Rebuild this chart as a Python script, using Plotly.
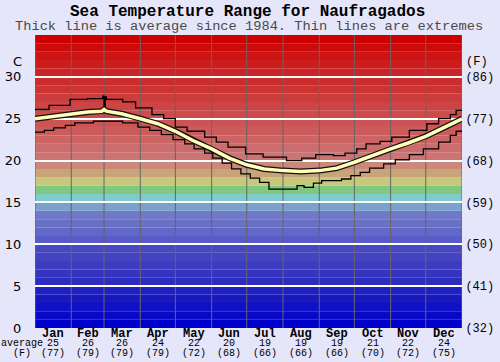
import plotly.graph_objects as go
from itertools import accumulate

# ---------------- data ----------------
months = ["Jan", "Feb", "Mar", "Apr", "May", "Jun", "Jul", "Aug", "Sep", "Oct", "Nov", "Dec"]
month_days = [31, 28, 31, 30, 31, 30, 31, 31, 30, 31, 30, 31]
avg_c = [25, 26, 26, 24, 22, 20, 19, 19, 19, 21, 22, 24]
avg_f = [77, 79, 79, 79, 72, 68, 66, 66, 66, 70, 72, 75]

y_tick_c = [0, 5, 10, 15, 20, 25, 30]
y_tick_f = ["(32)", "(41)", "(50)", "(59)", "(68)", "(77)", "(86)"]

avg_day = [0, 15, 31, 45, 57, 59, 61, 74, 90, 105, 120, 135, 151, 166, 181, 196, 212, 227,
           243, 258, 273, 288, 304, 319, 334, 349, 365]
avg_temp = [25.0, 25.3, 25.6, 25.8, 25.9, 26.1, 25.9, 25.6, 25.0, 24.4, 23.5, 22.4, 21.4, 20.3,
            19.5, 19.0, 18.8, 18.7, 18.8, 19.1, 19.8, 20.6, 21.4, 22.1, 22.9, 23.9, 25.0]

max_day = [0, 12, 30, 45, 58, 59, 60, 61, 75, 86, 100, 110, 120, 130, 145, 155, 165, 180, 195,
           215, 228, 240, 255, 265, 275, 283, 295, 305, 320, 335, 345, 355, 360, 365]
max_temp = [26.1, 26.6, 27.3, 27.4, 27.7, 25.8, 27.6, 27.3, 27.0, 26.3, 25.5, 25.0, 24.0, 23.5,
            22.8, 22.2, 21.6, 20.8, 20.4, 20.0, 20.3, 20.7, 20.6, 20.9, 21.4, 22.0, 22.3, 22.8,
            23.6, 24.4, 25.0, 25.5, 26.0, 26.0]

min_day = [0, 8, 16, 26, 34, 50, 75, 88, 98, 108, 118, 128, 136, 145, 152, 160, 168, 176, 184,
           192, 200, 224, 230, 238, 245, 262, 270, 278, 286, 298, 308, 320, 332, 345, 355, 360, 365]
min_temp = [23.4, 23.6, 23.9, 24.2, 24.5, 24.7, 24.5, 24.0, 23.6, 23.1, 22.5, 22.0, 21.4, 20.9,
            20.3, 19.7, 19.0, 18.4, 17.9, 17.4, 16.6, 17.0, 16.8, 17.3, 17.6, 17.8, 18.2, 18.6,
            19.1, 19.6, 20.1, 20.7, 21.4, 22.2, 23.0, 23.5, 23.5]

# one colour per 1-degree band, from 0 C upward to 35 C
band_colors = [
    "#0000cc", "#0808c8", "#1010c4", "#1818c0", "#2020c0",
    "#2c2cc0", "#3434c0", "#3c3cc0", "#4444c0", "#4848c0",
    "#5a5ac8", "#6068c8", "#6a70c4", "#7078c8", "#7aa0cc",
    "#80cccc", "#80c880", "#c8c87c", "#c8a478", "#cc8878",
    "#cc7474", "#cc6c6c", "#cc6464", "#cc5c5c", "#cc5454",
    "#cc4c4c", "#cc4444", "#cc3c3c", "#cc3434", "#cc2c2c",
    "#cc2424", "#cc1c1c", "#cc1414", "#cc0a0a", "#cc0000",
]

# ---------------- derived positions ----------------
bounds = [0] + list(accumulate(month_days))
centers = [bounds[i] + month_days[i] / 2 for i in range(12)]

fig = go.Figure()

fig.add_trace(go.Scatter(x=max_day, y=max_temp, mode="lines", line=dict(color="black", width=1.3, shape="hv"),
                         hoverinfo="skip", showlegend=False))
fig.add_trace(go.Scatter(x=min_day, y=min_temp, mode="lines", line=dict(color="black", width=1.3, shape="hv"),
                         hoverinfo="skip", showlegend=False))
fig.add_trace(go.Scatter(x=avg_day, y=avg_temp, mode="lines", line=dict(color="#111111", width=6),
                         hoverinfo="skip", showlegend=False))
fig.add_trace(go.Scatter(x=avg_day, y=avg_temp, mode="lines", line=dict(color="#ffffb8", width=3.5),
                         hoverinfo="skip", showlegend=False))
fig.add_trace(go.Scatter(x=[0], y=[0], yaxis="y2", mode="markers", marker=dict(opacity=0),
                         hoverinfo="skip", showlegend=False))

shapes = []
for i, c in enumerate(band_colors):
    shapes.append(dict(type="rect", xref="paper", yref="y", x0=0, x1=1, y0=i, y1=i + 1,
                       fillcolor=c, line=dict(width=0), layer="below"))
for b in bounds:
    shapes.append(dict(type="line", xref="x", yref="paper", x0=b, x1=b, y0=0, y1=1,
                       line=dict(color="#666666", width=1), layer="between"))

mono = "Liberation Mono, Courier New, monospace"

annotations = []
for i in range(12):
    annotations.append(dict(x=centers[i], y=-0.0205, xref="x", yref="paper", text=f"<b>{months[i]}</b>",
                            showarrow=False, font=dict(family=mono, size=12, color="black"),
                            xanchor="center", yanchor="middle"))
    annotations.append(dict(x=centers[i], y=-0.053, xref="x", yref="paper", text=str(avg_c[i]),
                            showarrow=False, font=dict(family=mono, size=10, color="black"),
                            xanchor="center", yanchor="middle"))
    annotations.append(dict(x=centers[i], y=-0.086, xref="x", yref="paper", text=f"({avg_f[i]})",
                            showarrow=False, font=dict(family=mono, size=10, color="black"),
                            xanchor="center", yanchor="middle"))
annotations += [
    dict(x=-0.030, y=-0.053, xref="paper", yref="paper", text="average", showarrow=False,
         font=dict(family=mono, size=10, color="black"), xanchor="center", yanchor="middle"),
    dict(x=-0.030, y=-0.086, xref="paper", yref="paper", text="(F)", showarrow=False,
         font=dict(family=mono, size=10, color="black"), xanchor="center", yanchor="middle"),
    dict(x=-0.040, y=31.8, xref="paper", yref="y", text="C", showarrow=False,
         font=dict(family="DejaVu Sans, sans-serif", size=13, color="black"), xanchor="center", yanchor="middle"),
    dict(x=1.036, y=31.8, xref="paper", yref="y", text="(F)", showarrow=False,
         font=dict(family=mono, size=12, color="black"), xanchor="center", yanchor="middle"),
    dict(x=0.4988, y=1.0785, xref="paper", yref="paper", yanchor="middle",
         text="<b>Sea Temperature Range for Naufragados</b>", showarrow=False,
         font=dict(family=mono, size=16, color="black"), xanchor="center"),
    dict(x=0.501, y=1.0307, xref="paper", yref="paper", yanchor="middle",
         text="Thick line is average since 1984. Thin lines are extremes", showarrow=False,
         font=dict(family=mono, size=13.7, color="#4a4a4a"), xanchor="center"),
]

fig.update_layout(
    width=500, height=362,
    margin=dict(l=35, r=38, t=35, b=34),
    paper_bgcolor="#e6e6fa",
    plot_bgcolor="#e6e6fa",
    shapes=shapes,
    annotations=annotations,
    xaxis=dict(range=[0, 365], showticklabels=False,
               showgrid=False, zeroline=False, ticks="",
               showline=False, fixedrange=True, automargin=False),
    yaxis=dict(range=[0, 35], tickmode="array", tickvals=y_tick_c, ticktext=[str(v) for v in y_tick_c],
               tickfont=dict(family="DejaVu Sans, sans-serif", size=13, color="black"),
               showgrid=True, gridcolor="white", gridwidth=2, zeroline=False,
               ticks="outside", ticklen=10, tickcolor="rgba(0,0,0,0)", showline=False, fixedrange=True,
               automargin=False),
    yaxis2=dict(range=[0, 35], overlaying="y", side="right", tickmode="array", tickvals=y_tick_c,
                ticktext=y_tick_f, tickfont=dict(family=mono, size=12, color="black"),
                showgrid=False, zeroline=False, ticks="outside", ticklen=0, tickcolor="rgba(0,0,0,0)",
                showline=False, fixedrange=True, automargin=False),
)

fig.write_html("out.html", config={"displayModeBar": False},
               post_script="document.body.style.margin='0';document.body.style.overflow='hidden';")
